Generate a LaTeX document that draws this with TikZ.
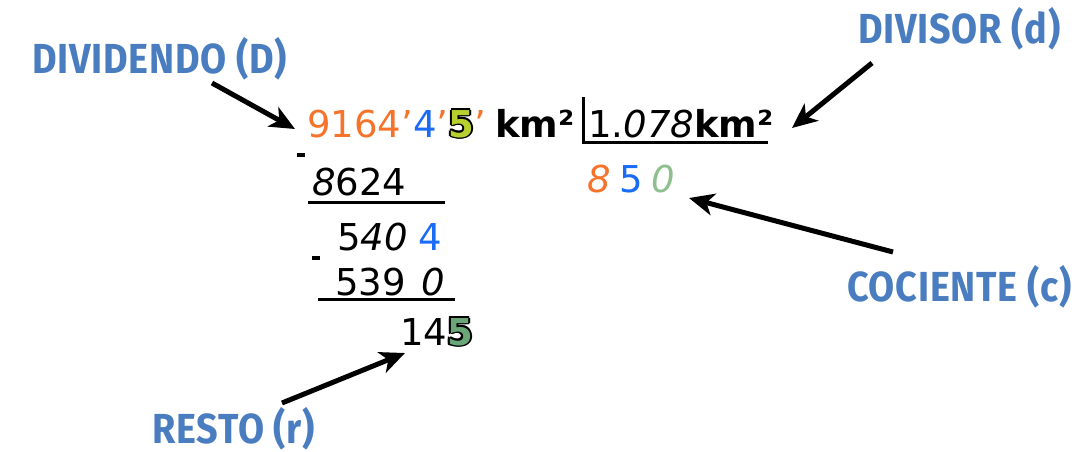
\documentclass[tikz,border=0pt]{standalone}
\usepackage{fontspec}
\setmainfont{DejaVu Sans}
\newfontfamily\labfont{Fira Sans}[LetterSpace=2]
\usetikzlibrary{arrows.meta}
\definecolor{lblue}{HTML}{4A7DC0}
\definecolor{dorange}{HTML}{F5732B}
\definecolor{dblue}{HTML}{1A6BF5}
\definecolor{lgreen}{HTML}{8FBE8F}
\definecolor{ygreen}{HTML}{B8CF30}
\definecolor{mgreen}{HTML}{6AA678}
\newcommand\ob[1]{{\itshape #1}}
\newcommand\shd[3]{\makebox[0pt][l]{\kern#1\raisebox{#2}{\bfseries#3}}}
\newcommand\outl[2]{\shd{1.8pt}{0pt}{#2}\shd{-1.8pt}{0pt}{#2}\shd{0pt}{1.8pt}{#2}\shd{0pt}{-1.8pt}{#2}\shd{1.3pt}{1.3pt}{#2}\shd{-1.3pt}{1.3pt}{#2}\shd{1.3pt}{-1.3pt}{#2}\shd{-1.3pt}{-1.3pt}{#2}\textcolor{#1}{\bfseries#2}}
\newcommand\lbl[1]{\scalebox{0.9}[1]{#1}}
\tikzset{
  num/.style={anchor=base west,inner sep=0pt,font=\fontsize{37}{40}\selectfont},
  lab/.style={anchor=base west,inner sep=0pt,text=lblue,font=\labfont\bfseries\fontsize{42}{44}\selectfont},
  rule/.style={line width=3pt},
  minus/.style={line width=3.5pt},
  arr/.style={line width=5pt,-{Stealth[length=25pt,width=22pt,inset=7pt]}}
}
\begin{document}
\begin{tikzpicture}[x=1pt,y=-1pt]
\useasboundingbox (0,0) rectangle (1084,451);
% labels
\node[lab] (lD) at (32,73) {\lbl{DIVIDENDO (D)}};
\node[lab] (ld) at (858,43) {\lbl{DIVISOR (d)}};
\node[lab] (lc) at (847,301) {\lbl{COCIENTE (c)}};
\node[lab] (lr) at (152,443) {\lbl{RESTO (r)}};
% dividend
\node[num] (dividend) at (307,137) {\textcolor{dorange}{9164’}\textcolor{dblue}{4}\textcolor{dorange}{’}\outl{ygreen}{5}\textcolor{dorange}{’}};
\node[num,font=\bfseries\fontsize{37}{40}\selectfont] (km) at (495,137) {km²};
% divisor
\node[num] (divisor) at (588,137) {1.\ob{078}\textbf{km²}};
\draw[rule] (583,97) -- (583,142) -- (768,142);
% quotient
\node[num] (quot) at (587,192) {\textcolor{dorange}{\ob{8}}\kern9pt\textcolor{dblue}{5}\kern8pt\textcolor{lgreen}{\ob{0}}};
% steps
\draw[minus] (297,155) -- (305,155);
\node[num] (s1) at (312,195) {\ob{8}624};
\draw[rule] (308,202) -- (445,202);
\node[num] (s2) at (337,250) {5\ob{40}\kern11pt\textcolor{dblue}{4}};
\draw[minus] (312,258) -- (320,258);
\node[num] (s3) at (335,295) {539\kern16pt\ob{0}};
\draw[rule] (318,299) -- (455,299);
\node[num] (rest) at (400,345) {14\outl{mgreen}{5}};
% arrows
\coordinate (tD) at (212,83); \coordinate (hD) at (295,129);
\coordinate (td) at (872,63); \coordinate (hd) at (792,128);
\coordinate (tc) at (893,252); \coordinate (hc) at (689,198);
\coordinate (tr) at (282,403); \coordinate (hr) at (405,353);
\draw[arr] (tD) -- (hD);
\draw[arr] (td) -- (hd);
\draw[arr] (tc) -- (hc);
\draw[arr] (tr) -- (hr);
\end{tikzpicture}
\end{document}
